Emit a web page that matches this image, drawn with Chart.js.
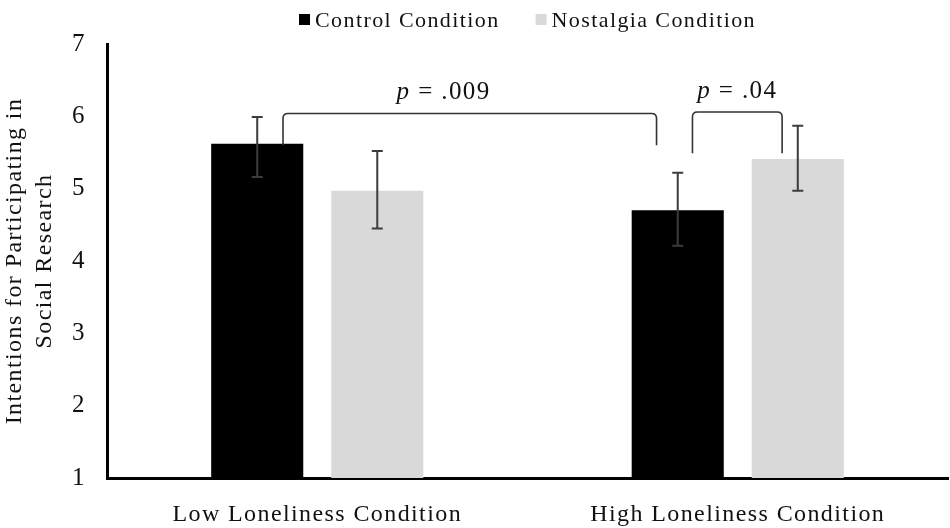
<!DOCTYPE html>
<html>
<head>
<meta charset="utf-8">
<script src="https://cdn.jsdelivr.net/npm/chart.js@4.4.1/dist/chart.umd.min.js"></script>
<style>
  html, body { margin: 0; padding: 0; background: #fff; }
  #wrap { width: 950px; height: 528px; }
</style>
</head>
<body>
<div id="wrap"><canvas id="chart"></canvas></div>
<script>
// Data
const categories = ['Low Loneliness Condition', 'High Loneliness Condition'];
const seriesNames = ['Control Condition', 'Nostalgia Condition'];
const controlMeans = [5.62, 4.70];
const nostalgiaMeans = [4.97, 5.41];
const controlErrLow = [5.16, 4.21];
const controlErrHigh = [5.99, 5.22];
const nostalgiaErrLow = [4.45, 4.97];
const nostalgiaErrHigh = [5.52, 5.87];
const yTicks = [1, 2, 3, 4, 5, 6, 7];

// Significance brackets: [datasetIndex, categoryIndex] of each end
const pLabels = ['.009', '.04'];
const bracketFrom = [[0, 0], [0, 1]];
const bracketTo = [[0, 1], [1, 1]];
const bracketTop = [6.04, 6.06];
const bracketEnd = [5.60, 5.49];

const SERIF = "'Liberation Serif', 'Times New Roman', serif";
const errLow = [controlErrLow, nostalgiaErrLow];
const errHigh = [controlErrHigh, nostalgiaErrHigh];
const barColors = ['#000000', '#d9d9d9'];
const SPACING = '1.4px';

const extrasPlugin = {
    id: 'extras',
    // canvas resizes wipe the context state, so set spacing again each pass
    beforeUpdate(chart) { chart.ctx.letterSpacing = SPACING; },
    beforeDraw(chart) { chart.ctx.letterSpacing = SPACING; },
    afterDatasetsDraw(chart) {
        const ctx = chart.ctx;
        const y = chart.scales.y;
        ctx.save();
        // error bars
        ctx.strokeStyle = '#3c3c3c';
        ctx.lineWidth = 2;
        chart.data.datasets.forEach((ds, d) => {
            chart.getDatasetMeta(d).data.forEach((bar, i) => {
                const top = y.getPixelForValue(errHigh[d][i]);
                const bot = y.getPixelForValue(errLow[d][i]);
                ctx.beginPath();
                ctx.moveTo(bar.x, top); ctx.lineTo(bar.x, bot);
                ctx.moveTo(bar.x - 5.5, top); ctx.lineTo(bar.x + 5.5, top);
                ctx.moveTo(bar.x - 5.5, bot); ctx.lineTo(bar.x + 5.5, bot);
                ctx.stroke();
            });
        });

        // brackets + p labels
        const offsets = [[0.28, -0.23], [0.16, -0.17]];
        const textPos = [0.43, 0.5];
        ctx.strokeStyle = '#333333';
        ctx.lineWidth = 1.6;
        pLabels.forEach((lab, k) => {
            const a = chart.getDatasetMeta(bracketFrom[k][0]).data[bracketFrom[k][1]];
            const b = chart.getDatasetMeta(bracketTo[k][0]).data[bracketTo[k][1]];
            const x1 = a.x + offsets[k][0] * a.width;
            const x2 = b.x + offsets[k][1] * b.width;
            const yt = y.getPixelForValue(bracketTop[k]);
            const ye = y.getPixelForValue(bracketEnd[k]);
            const r = 5;
            ctx.beginPath();
            ctx.moveTo(x1, ye);
            ctx.lineTo(x1, yt + r);
            ctx.quadraticCurveTo(x1, yt, x1 + r, yt);
            ctx.lineTo(x2 - r, yt);
            ctx.quadraticCurveTo(x2, yt, x2, yt + r);
            ctx.lineTo(x2, ye);
            ctx.stroke();

            const cx = x1 + textPos[k] * (x2 - x1);
            ctx.fillStyle = '#111';
            ctx.textBaseline = 'alphabetic';
            ctx.textAlign = 'left';
            ctx.font = 'italic 25px ' + SERIF;
            const pW = ctx.measureText('p').width;
            ctx.font = '25px ' + SERIF;
            const rest = ' = ' + lab;
            const rW = ctx.measureText(rest).width;
            const sx = cx - (pW + rW) / 2;
            ctx.font = 'italic 25px ' + SERIF;
            ctx.fillText('p', sx, yt - 14);
            ctx.font = '25px ' + SERIF;
            ctx.fillText(rest, sx + pW, yt - 14);
        });
        ctx.restore();
    },
    afterDraw(chart) {
        // legend centred over the plot area
        const ctx = chart.ctx;
        const area = chart.chartArea;
        ctx.save();
        ctx.font = '22px ' + SERIF;
        const box = 11, gap = 5, itemGap = 36;
        const widths = seriesNames.map(n => ctx.measureText(n).width);
        const total = widths.reduce((s, w) => s + box + gap + w, 0) + itemGap * (seriesNames.length - 1);
        let x = (area.left + area.right) / 2 - total / 2;
        const cy = 20;
        ctx.textBaseline = 'middle';
        ctx.textAlign = 'left';
        seriesNames.forEach((n, i) => {
            ctx.fillStyle = barColors[i];
            ctx.fillRect(x, cy - 6, box, box);
            ctx.fillStyle = '#111';
            ctx.fillText(n, x + box + gap, cy + 1);
            x += box + gap + widths[i] + itemGap;
        });
        ctx.restore();
    }
};

new Chart(document.getElementById('chart'), {
    type: 'bar',
    data: {
        labels: categories,
        datasets: [
            { label: seriesNames[0], data: controlMeans, backgroundColor: barColors[0] },
            { label: seriesNames[1], data: nostalgiaMeans, backgroundColor: barColors[1] }
        ]
    },
    options: {
        responsive: true,
        maintainAspectRatio: false,
        animation: false,
        categoryPercentage: 0.571,
        barPercentage: 0.767,
        layout: { padding: { top: 44, right: 2, left: 0, bottom: 0 } },
        plugins: { legend: { display: false }, tooltip: { enabled: false } },
        scales: {
            x: {
                grid: { display: false },
                border: { display: true, color: '#000', width: 3 },
                ticks: { color: '#111', padding: 14, font: { family: SERIF, size: 24 } },
                afterFit(scale) { scale.height = 50; }
            },
            y: {
                min: 1, max: 7,
                grid: { display: false },
                border: { display: true, color: '#000', width: 3 },
                afterBuildTicks(scale) { scale.ticks = yTicks.map(v => ({ value: v })); },
                ticks: { color: '#111', padding: 13, font: { family: SERIF, size: 25 } },
                title: {
                    display: true,
                    text: ['Intentions for Participating in', 'Social Research'],
                    color: '#111',
                    font: { family: SERIF, size: 24, lineHeight: 1.25 },
                    padding: { top: 0, bottom: 0 }
                },
                afterFit(scale) { scale.width = 107; }
            }
        }
    },
    plugins: [extrasPlugin]
});
</script>
</body>
</html>
